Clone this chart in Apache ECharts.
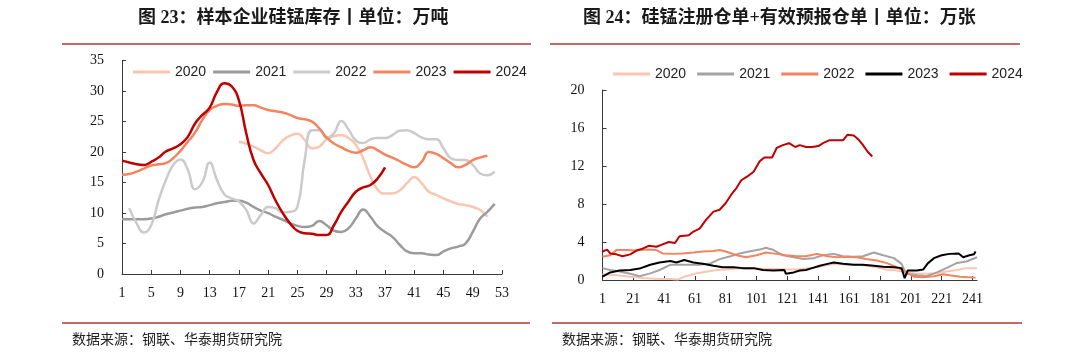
<!DOCTYPE html>
<html>
<head>
<meta charset="utf-8">
<script src="https://cdn.jsdelivr.net/npm/echarts@6/dist/echarts.min.js"></script>
<style>
html,body{margin:0;padding:0;background:#fff;}
#c{width:1080px;height:359px;}
</style>
</head>
<body>
<div id="c"></div>
<script>
// ---------- Left chart: weekly inventory (万吨) ----------
const weeks = Array.from({length: 53}, (_, i) => String(i + 1));
const leftYears = ['2020', '2021', '2022', '2023', '2024'];
// 2020 starts at week 17
const inv2020 = [21.7,21.4,20.9,20.3,19.8,20.6,21.9,22.7,23.0,22.0,20.6,20.9,22.1,22.6,22.8,22.3,21.2,19.0,16.0,13.8,13.2,13.2,13.7,14.9,15.9,14.9,13.5,13.0,12.4,11.9,11.5,11.3,11.0,10.5,9.4];
const inv2020Start = 17;
const inv2021 = [9.0,9.0,9.0,9.0,9.1,9.4,9.8,10.1,10.4,10.7,10.9,11.0,11.3,11.6,11.8,12.0,12.0,11.7,11.0,10.4,10.0,9.4,8.9,8.3,7.9,7.7,7.9,8.7,8.0,7.1,6.9,7.5,9.1,10.6,9.4,7.8,6.9,6.1,4.8,3.7,3.4,3.4,3.2,3.1,3.7,4.2,4.5,5.0,6.9,9.1,10.2,11.5];
// 2022 starts at week 2
const inv2022 = [10.8,8.3,6.8,8.0,12.1,15.4,17.9,18.8,17.1,13.9,15.1,18.3,15.4,13.1,12.4,11.9,10.5,8.3,9.7,11.0,10.8,10.1,10.2,11.0,18.7,23.6,23.6,22.3,23.1,25.1,23.7,21.9,21.5,22.1,22.3,22.3,22.8,23.5,23.6,23.1,22.4,22.1,22.1,20.6,19.0,18.7,18.7,17.9,16.5,16.2,16.8];
const inv2022Start = 2;
const inv2023 = [16.3,16.4,16.8,17.3,17.8,18.0,18.2,19.0,20.2,21.7,23.2,25.3,26.9,27.6,27.9,27.8,27.6,27.7,27.7,27.3,26.9,26.7,26.5,26.1,25.6,25.4,25.0,23.9,22.4,21.4,20.8,20.2,19.9,20.3,20.8,20.3,19.6,19.1,18.5,17.9,17.5,18.4,20.0,19.7,19.0,18.2,17.5,17.9,18.7,19.1,19.4];
const inv2024 = [18.6,18.3,18.0,17.9,18.4,19.1,20.1,20.6,21.3,22.5,24.7,26.1,27.3,29.9,31.3,30.8,28.5,23.1,18.7,16.5,14.6,12.1,10.0,8.3,7.1,6.7,6.6,6.4,6.4,8.0,10.2,11.9,13.5,14.2,14.6,15.7,17.5];
const leftColors = ['#F9C6B1', '#9B9B9B', '#CBCBCB', '#F3845F', '#C00000'];

// ---------- Right chart: daily warehouse receipts (万张) ----------
const days = Array.from({length: 244}, (_, i) => String(i + 1));
const rightYears = ['2020', '2021', '2022', '2023', '2024'];
// [trading day, value]
const wr2020 = [[1,0.6],[10,0.5],[19,0.35],[27,0.2],[36,0.1],[45,0.1],[50,0.05],[55,0.4],[62,0.7],[69,0.9],[75,1.05],[81,1.1],[88,1.2],[94,1.2],[101,1.2],[107,1.15],[114,1.15],[120,1.1],[127,1.1],[133,1.2],[140,1.35],[147,1.6],[153,1.7],[159,1.6],[166,1.6],[172,1.5],[179,1.35],[185,1.1],[192,1.0],[198,0.8],[205,0.65],[211,0.65],[218,0.7],[224,0.9],[231,1.05],[237,1.25],[244,1.25]];
const wr2021 = [[1,1.25],[6,1.05],[12,0.9],[19,0.65],[25,0.4],[32,0.7],[38,1.05],[45,1.6],[51,1.6],[58,1.6],[64,1.6],[71,1.75],[77,2.2],[84,2.5],[90,2.8],[96,3.0],[103,3.2],[107,3.4],[112,3.15],[118,2.6],[125,2.4],[131,2.2],[138,2.3],[144,2.6],[151,2.75],[157,2.5],[164,2.45],[170,2.5],[177,2.9],[183,2.6],[190,2.3],[195,1.7],[198,0.65],[205,0.5],[211,0.4],[218,0.8],[224,1.25],[231,1.8],[237,1.95],[244,2.4]];
const wr2022 = [[1,2.45],[6,2.6],[10,3.15],[17,3.15],[23,3.1],[30,3.2],[36,3.15],[40,2.8],[47,2.75],[53,2.8],[60,2.9],[66,3.0],[73,3.05],[77,3.15],[81,3.0],[88,2.6],[94,2.4],[101,2.6],[107,2.9],[114,2.75],[120,2.6],[127,2.5],[133,2.5],[140,2.75],[147,2.5],[153,2.4],[159,2.45],[166,2.4],[172,2.2],[179,2.05],[185,1.8],[192,1.35],[197,0.9],[203,0.35],[209,0.3],[216,0.4],[222,0.6],[226,0.5],[233,0.35],[243,0.25]];
const wr2023 = [[1,0.35],[6,0.8],[12,1.0],[19,1.05],[25,1.2],[32,1.6],[38,1.85],[45,2.0],[49,1.85],[54,2.1],[60,1.85],[66,1.7],[73,1.5],[79,1.35],[86,1.35],[92,1.25],[99,1.25],[105,1.05],[112,1.0],[119,1.05],[120,0.65],[125,0.8],[129,1.0],[133,1.05],[138,1.3],[142,1.5],[147,1.7],[151,1.85],[157,1.7],[164,1.6],[170,1.6],[177,1.5],[183,1.4],[190,1.35],[195,1.25],[197,0.2],[199,1.0],[205,1.0],[209,1.1],[212,1.75],[216,2.3],[221,2.6],[226,2.75],[232,2.8],[235,2.4],[239,2.6],[242,2.7],[243,3.0]];
const wr2024 = [[1,3.0],[4,3.2],[6,2.8],[10,2.7],[14,2.5],[19,2.7],[23,3.1],[27,3.3],[31,3.6],[36,3.5],[40,3.75],[44,4.0],[48,3.9],[51,4.6],[57,4.7],[60,5.1],[64,5.4],[68,6.3],[73,7.2],[77,7.4],[81,8.1],[85,9.1],[88,9.7],[91,10.5],[95,10.9],[99,11.4],[103,12.5],[106,12.9],[111,12.9],[114,13.9],[118,14.2],[122,14.4],[126,14.0],[129,14.2],[133,14.0],[137,14.0],[141,14.1],[144,14.4],[148,14.7],[153,14.7],[157,14.7],[160,15.3],[164,15.2],[167,14.8],[170,14.2],[173,13.5],[176,13.0]];
const rightColors = ['#F9C6B1', '#A3A3A3', '#F3845F', '#000000', '#C00000'];

const leftTitle = '图 23：样本企业硅锰库存丨单位：万吨';
const rightTitle = '图 24：硅锰注册仓单+有效预报仓单丨单位：万张';
const sourceText = '数据来源：钢联、华泰期货研究院';

function pad(arr, start) {
  return Array(start - 1).fill(null).concat(arr);
}
const leftData = [pad(inv2020, inv2020Start), inv2021, pad(inv2022, inv2022Start), inv2023, inv2024];
const rightData = [wr2020, wr2021, wr2022, wr2023, wr2024].map(s => s.map(p => [String(p[0]), p[1]]));

const serif = '"Liberation Serif", "Times New Roman", serif';
const axisColor = '#3a3a3a';

function xAxisCfg(gi, cats, interval, margin) {
  return {
    type: 'category', gridIndex: gi, data: cats, boundaryGap: false,
    axisLine: {lineStyle: {color: axisColor, width: 1}},
    axisTick: {show: true, inside: true, length: 4, interval: interval, lineStyle: {color: axisColor}},
    axisLabel: {interval: interval, color: '#111', fontFamily: serif, fontSize: 14, margin: margin},
    splitLine: {show: false}
  };
}
function yAxisCfg(gi, max, interval) {
  return {
    type: 'value', gridIndex: gi, min: 0, max: max, interval: interval,
    axisLine: {show: true, lineStyle: {color: axisColor, width: 1}},
    axisTick: {show: true, inside: true, length: 4, lineStyle: {color: axisColor}},
    axisLabel: {color: '#111', fontFamily: serif, fontSize: 14, margin: 18},
    splitLine: {show: false}
  };
}

const series = [];
leftYears.forEach((y, i) => {
  series.push({
    name: y, type: 'line', xAxisIndex: 0, yAxisIndex: 0, data: leftData[i],
    smooth: 0.5, symbol: 'none', connectNulls: false,
    lineStyle: {color: leftColors[i], width: 2.5}, itemStyle: {color: leftColors[i]}
  });
});
rightYears.forEach((y, i) => {
  series.push({
    name: y + ' ', type: 'line', xAxisIndex: 1, yAxisIndex: 1, data: rightData[i],
    smooth: false, symbol: 'none',
    lineStyle: {color: rightColors[i], width: 2}, itemStyle: {color: rightColors[i]}
  });
});

const legendText = {fontFamily: '"Liberation Sans", Arial, sans-serif', fontSize: 14, color: '#222'};
const titleFont = '"Liberation Serif", "Noto Sans CJK SC", serif';
const rule = '#C46868';

const option = {
  animation: false,
  backgroundColor: '#fff',
  grid: [
    {left: 122, top: 60.7, width: 380, height: 213.3},
    {left: 602.5, top: 90, width: 374.6, height: 190}
  ],
  xAxis: [xAxisCfg(0, weeks, 3, 12), xAxisCfg(1, days, 19, 12)],
  yAxis: [yAxisCfg(0, 35, 5), yAxisCfg(1, 20, 4)],
  legend: [
    {data: leftYears, left: 133, top: 65, padding: 0, icon: 'rect', itemWidth: 37, itemHeight: 3, itemGap: 7, textStyle: legendText},
    {data: rightYears.map(y => y + ' '), left: 613, top: 67, padding: 0, icon: 'rect', itemWidth: 37, itemHeight: 3, itemGap: 11, textStyle: legendText,
     formatter: n => n.trim()}
  ],
  series: series,
  graphic: [
    {type: 'text', left: 138, top: 9, style: {text: leftTitle, font: 'bold 18px ' + titleFont, fill: '#1a1a1a'}},
    {type: 'text', left: 583, top: 9, style: {text: rightTitle, font: 'bold 18px ' + titleFont, fill: '#1a1a1a'}},
    {type: 'line', shape: {x1: 62, y1: 44, x2: 531, y2: 44}, style: {stroke: rule, lineWidth: 2}},
    {type: 'line', shape: {x1: 550, y1: 44, x2: 1020, y2: 44}, style: {stroke: rule, lineWidth: 2}},
    {type: 'line', shape: {x1: 62, y1: 323, x2: 530, y2: 323}, style: {stroke: rule, lineWidth: 2}},
    {type: 'line', shape: {x1: 552, y1: 323, x2: 1022, y2: 323}, style: {stroke: rule, lineWidth: 2}},
    {type: 'text', left: 72, top: 332, style: {text: sourceText, font: '14px "Noto Sans CJK SC", sans-serif', fill: '#222'}},
    {type: 'text', left: 562, top: 332, style: {text: sourceText, font: '14px "Noto Sans CJK SC", sans-serif', fill: '#222'}}
  ]
};

const chart = echarts.init(document.getElementById('c'), null, {renderer: 'canvas'});
chart.setOption(option);
</script>
</body>
</html>
